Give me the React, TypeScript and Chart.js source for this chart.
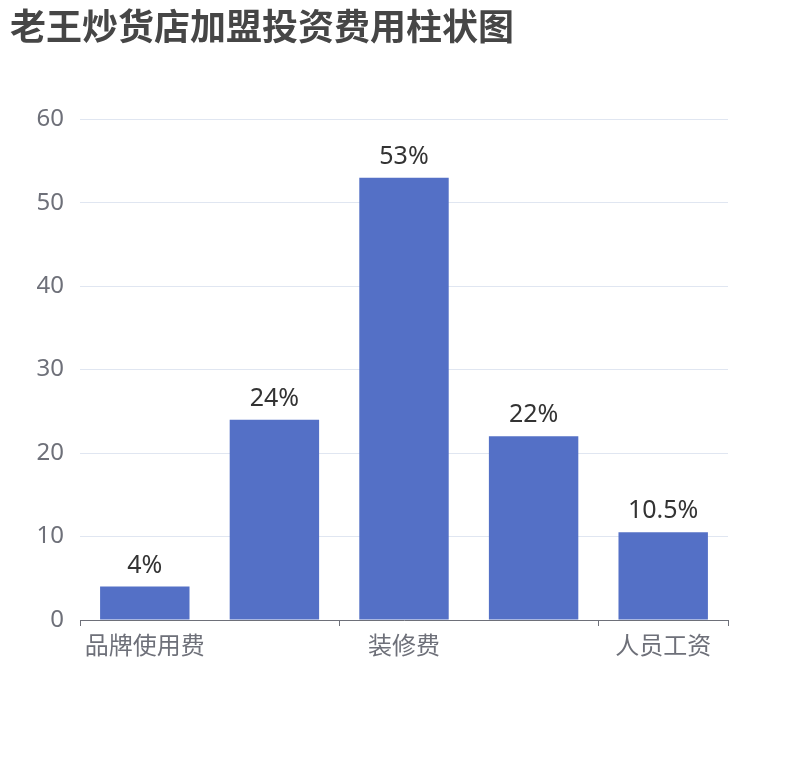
import { useEffect, useRef } from 'react'
import { Chart, registerables } from 'chart.js'

Chart.register(...registerables)

const categories = ['品牌使用费', '加盟费', '装修费', '设备费', '人员工资']
const values = [4, 24, 53, 22, 10.5]
const yTicks = [0, 10, 20, 30, 40, 50, 60]

const FONT = "'Noto Sans', 'Noto Sans CJK SC', sans-serif"

// draws "xx%" above every bar
const barLabels = {
    id: 'barLabels',
    afterDatasetsDraw(chart: Chart) {
        const ctx = chart.ctx
        const meta = chart.getDatasetMeta(0)
        ctx.save()
        ctx.font = `25px ${FONT}`
        ctx.fillStyle = '#333333'
        ctx.textAlign = 'center'
        ctx.textBaseline = 'alphabetic'
        meta.data.forEach((bar: any, i: number) => {
            ctx.fillText(`${values[i]}%`, bar.x, bar.y - 14)
        })
        ctx.restore()
    }
}

export default function App() {
    const chartRef = useRef<HTMLCanvasElement>(null)
    const chartInstance = useRef<Chart | null>(null)

    useEffect(() => {
        if (!chartRef.current) return
        if (chartInstance.current) chartInstance.current.destroy()

        chartInstance.current = new Chart(chartRef.current, {
            type: 'bar',
            data: {
                labels: categories,
                datasets: [{
                    data: values,
                    backgroundColor: '#5470c6',
                    barPercentage: 0.69,
                    categoryPercentage: 1
                }]
            },
            options: {
                responsive: true,
                maintainAspectRatio: false,
                animation: false,
                layout: { padding: { left: 10, right: 82, top: 0, bottom: 0 } },
                plugins: {
                    legend: { display: false },
                    tooltip: { enabled: false },
                    title: {
                        display: true,
                        text: '老王炒货店加盟投资费用柱状图',
                        align: 'start',
                        color: '#464646',
                        font: { family: FONT, size: 36, weight: 'bold', lineHeight: 1.2 },
                        padding: { top: 8, bottom: 68 }
                    }
                },
                scales: {
                    x: {
                        offset: true,
                        border: { display: true, color: '#6e7079', width: 1 },
                        grid: {
                            offset: true,
                            drawOnChartArea: false,
                            drawTicks: true,
                            tickLength: 6,
                            tickColor: (c: any) =>
                                c.index === undefined || c.index % 2 === 0 ? '#6e7079' : 'rgba(0,0,0,0)'
                        },
                        ticks: {
                            autoSkip: false,
                            maxRotation: 0,
                            padding: 7,
                            color: '#6e7079',
                            font: { family: FONT, size: 24 },
                            callback: (_v: any, i: number) => (i % 2 === 0 ? categories[i] : '')
                        },
                        afterFit: (scale: any) => { scale.height = 140 }
                    },
                    y: {
                        min: yTicks[0],
                        max: yTicks[yTicks.length - 1],
                        border: { display: false },
                        grid: { color: '#e0e6f1', drawTicks: false },
                        ticks: {
                            stepSize: 10,
                            padding: 16,
                            color: '#6e7079',
                            font: { family: FONT, size: 24 }
                        },
                        afterFit: (scale: any) => { scale.width = 70 }
                    }
                }
            },
            plugins: [barLabels]
        })

        return () => {
            if (chartInstance.current) {
                chartInstance.current.destroy()
                chartInstance.current = null
            }
        }
    }, [])

    return (
        <div style={{ position: 'absolute', left: 0, top: 0, width: 810, height: 760, background: '#fff' }}>
            <canvas ref={chartRef}></canvas>
        </div>
    )
}
